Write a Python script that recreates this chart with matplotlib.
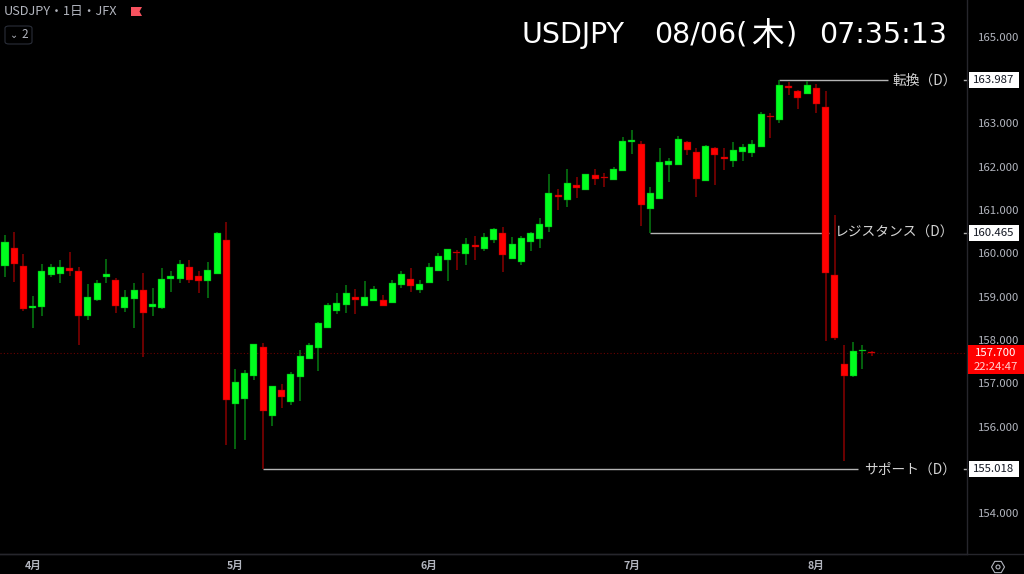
import matplotlib
matplotlib.use('Agg')
from matplotlib import pyplot as plt
from matplotlib.patches import FancyBboxPatch, Polygon, Rectangle, Circle, RegularPolygon

plt.rcParams['font.family'] = ['Noto Sans CJK JP', 'DejaVu Sans']

# daily candles: body top/bottom + wicks
highs = [160.42, 160.48, 159.98, 159.02, 159.75, 159.75, 159.84, 160.04, 159.69, 159.30,
         159.38, 159.86, 159.42, 159.15, 159.31, 159.54, 159.20, 159.65, 159.59, 159.85,
         159.85, 159.60, 159.80, 160.49, 160.73, 157.33, 157.31, 157.91, 157.92, 156.95,
         156.99, 157.27, 157.77, 157.92, 158.42, 158.85, 159.09, 159.27, 159.18, 159.36,
         159.25, 159.03, 159.38, 159.59, 159.67, 159.38, 159.77, 160.00, 160.11, 160.08,
         160.35, 160.41, 160.46, 160.58, 160.60, 160.38, 160.40, 160.48, 160.81, 161.83,
         161.48, 161.94, 161.75, 161.83, 161.95, 161.85, 162.00, 162.69, 162.85, 162.60,
         161.53, 162.42, 162.19, 162.71, 162.60, 162.42, 162.49, 162.45, 162.43, 162.56,
         162.52, 162.61, 163.25, 163.23, 163.987, 163.95, 163.77, 163.97, 163.90, 163.74,
         160.88, 157.89, 157.96, 157.89, 157.74]
body_tops = [160.25, 160.12, 159.71, 158.79, 159.59, 159.68, 159.69, 159.66, 159.59, 159.00,
             159.31, 159.52, 159.38, 158.99, 159.15, 159.15, 158.83, 159.40, 159.48, 159.75,
             159.68, 159.48, 159.62, 160.46, 160.31, 157.03, 157.24, 157.91, 157.83, 156.95,
             156.85, 157.22, 157.62, 157.89, 158.40, 158.81, 158.86, 159.08, 158.99, 158.99,
             159.17, 158.93, 159.32, 159.52, 159.41, 159.29, 159.68, 159.94, 160.11, 160.04,
             160.22, 160.19, 160.38, 160.57, 160.46, 160.22, 160.35, 160.47, 160.68, 161.40,
             161.35, 161.61, 161.58, 161.82, 161.81, 161.76, 161.94, 162.60, 162.61, 162.53,
             161.38, 162.11, 162.12, 162.64, 162.57, 162.33, 162.47, 162.43, 162.21, 162.38,
             162.45, 162.51, 163.21, 163.17, 163.88, 163.87, 163.75, 163.88, 163.81, 163.37,
             159.50, 157.44, 157.75, 157.77, 157.72]
body_bottoms = [159.70, 159.75, 158.72, 158.75, 158.77, 159.50, 159.53, 159.59, 158.56, 158.56,
                158.92, 159.45, 158.79, 158.74, 158.95, 158.62, 158.77, 158.74, 159.41, 159.41,
                159.39, 159.37, 159.36, 159.52, 156.62, 156.52, 156.64, 157.16, 156.36, 156.25,
                156.69, 156.57, 157.15, 157.56, 157.82, 158.28, 158.68, 158.81, 158.93, 158.79,
                158.90, 158.79, 158.85, 159.26, 159.25, 159.15, 159.32, 159.59, 159.84, 160.01,
                159.99, 160.15, 160.11, 160.31, 159.96, 159.88, 159.80, 160.26, 160.33, 160.60,
                161.31, 161.22, 161.50, 161.46, 161.72, 161.74, 161.70, 161.90, 162.57, 161.12,
                161.02, 161.25, 162.04, 162.04, 162.39, 161.71, 161.66, 162.27, 162.18, 162.14,
                162.34, 162.32, 162.45, 163.14, 163.07, 163.82, 163.59, 163.67, 163.44, 159.55,
                158.04, 157.16, 157.16, 157.75, 157.70]
lows = [159.46, 159.33, 158.67, 158.28, 158.56, 159.45, 159.32, 159.48, 157.89, 158.47,
        158.91, 159.31, 158.62, 158.65, 158.28, 157.60, 158.55, 158.72, 159.11, 159.31,
        159.32, 159.09, 158.97, 159.52, 155.57, 155.49, 155.69, 157.08, 155.018, 156.02,
        156.44, 156.50, 156.59, 157.56, 157.29, 158.28, 158.59, 158.63, 158.59, 158.79,
        158.90, 158.79, 158.85, 159.19, 159.11, 159.09, 159.31, 159.59, 159.36, 159.62,
        159.72, 159.85, 160.06, 160.24, 159.57, 159.87, 159.72, 160.05, 160.12, 160.49,
        161.00, 161.07, 161.28, 161.46, 161.57, 161.54, 161.70, 161.90, 162.30, 160.63,
        160.465, 161.25, 161.65, 162.04, 162.27, 161.29, 161.66, 161.58, 161.91, 162.00,
        162.12, 162.21, 162.45, 162.65, 163.01, 163.65, 163.33, 163.67, 163.24, 157.98,
        158.00, 155.21, 157.15, 157.33, 157.63]
is_up = [1, 0, 0, 1, 1, 1, 1, 0, 0, 1,
         1, 1, 0, 1, 1, 0, 1, 1, 1, 1,
         0, 0, 1, 1, 0, 1, 1, 1, 0, 1,
         0, 1, 1, 1, 1, 1, 1, 1, 0, 1,
         1, 0, 1, 1, 0, 1, 1, 1, 1, 0,
         1, 0, 1, 1, 0, 1, 1, 1, 1, 1,
         0, 1, 0, 1, 0, 0, 1, 1, 1, 0,
         1, 1, 1, 1, 0, 0, 1, 0, 0, 1,
         1, 1, 1, 0, 1, 0, 0, 1, 0, 0,
         0, 0, 1, 1, 0]

price_ticks = [165, 163, 162, 161, 160, 159, 158, 157, 156, 154]
month_pos = [3, 25, 46, 68, 88]
month_labels = ['4月', '5月', '6月', '7月', '8月']

# horizontal levels: price, first candle, label
level_prices = [163.987, 160.465, 155.018]
level_starts = [84, 70, 28]
level_labels = ['転換（D）', 'レジスタンス（D）', 'サポート（D）']
last_price = 157.700
countdown = '22:24:47'
title_parts = ['USDJPY', '08/06(', '木', ')', '07:35:13']

W, H = 1024, 574
AX_R, AX_B = 967, 554
GREEN, RED = '#00ff1e', '#ff0000'
GREEN_W, RED_W = '#067d12', '#8a0000'
GRID = '#26262c'
TXT = '#b2b5be'

fig = plt.figure(figsize=(W / 100, H / 100), dpi=100, facecolor='black')
ax = fig.add_axes([0, 1 - AX_B / H, AX_R / W, AX_B / H], facecolor='black')
ax.set_xlim(-0.542, 104.34)
ax.set_ylim(153.065, 165.842)
for s in ['top', 'left']:
    ax.spines[s].set_visible(False)
for s in ['right', 'bottom']:
    ax.spines[s].set_color(GRID)
    ax.spines[s].set_linewidth(1)

ax.yaxis.tick_right()
ax.set_yticks(price_ticks)
ax.set_yticklabels(['%.3f' % p for p in price_ticks], fontsize=8.2, color=TXT)
ax.tick_params(axis='y', length=0, pad=8)
ax.set_xticks(month_pos)
ax.set_xticklabels(month_labels, fontsize=7.6, color=TXT, fontweight='bold')
ax.tick_params(axis='x', length=0, pad=5)

# current price line
ax.axhline(last_price, color='#6a0000', lw=0.8, ls=(0, (1, 2)), zorder=1)

# levels sit under the candles
line_ends = [95.77, 89.37, 92.5]
text_x = [96.3, 90.05, 93.2]
for p, st, lab, e, tx in zip(level_prices, level_starts, level_labels, line_ends, text_x):
    ax.hlines(p, st, e, color='#b4b4b4', lw=1, zorder=2)
    ax.text(tx, p, lab, color='#d4d4d4', fontsize=9.9, va='center', ha='left', zorder=5)
    ax.plot([103.98, 104.34], [p, p], color='#b4b4b4', lw=1, zorder=2, clip_on=False)

for i in range(len(highs)):
    c = GREEN if is_up[i] else RED
    w = GREEN_W if is_up[i] else RED_W
    ax.vlines(i, lows[i], highs[i], color=w, lw=1.1, zorder=3)
    ax.bar(i, body_tops[i] - body_bottoms[i], bottom=body_bottoms[i], width=0.76,
           color=c, edgecolor=w, linewidth=0.3, zorder=4)


def px(x, y):
    return x / W, 1 - y / H


def put_box(x0, y0, x1, y1, color):
    fig.add_artist(Rectangle(px(x0, y1), (x1 - x0) / W, (y1 - y0) / H, transform=fig.transFigure,
                             facecolor=color, edgecolor='none', zorder=6))


# tags on the price scale
for p in level_prices:
    yp = H - ax.transData.transform((0, p))[1]
    put_box(968.5, yp - 8, 1019, yp + 8, 'white')
    fig.text(*px(994, yp), '%.3f' % p, color='#131722', fontsize=8.2, ha='center', va='center', zorder=7)

yp = H - ax.transData.transform((0, last_price))[1]
put_box(968, yp - 8, 1024, yp + 21, '#ff0000')
fig.text(*px(996, yp), '%.3f' % last_price, color='white', fontsize=8.2, ha='center', va='center', zorder=7)
fig.text(*px(996, yp + 14), countdown, color='#ffd0d0', fontsize=8.2, ha='center', va='center', zorder=7)

# header, the big clock is in DejaVu with the kanji a bit larger
title_x = [521, 654, 751, 786, 819]
title_size = [20.5, 20.5, 23.5, 20.5, 20.5]
for part, x0, fs in zip(title_parts, title_x, title_size):
    fig.text(*px(x0, 32), part, color='white', fontsize=fs, ha='left', va='center_baseline',
             family=['DejaVu Sans', 'Noto Sans CJK JP'] if part != '木' else ['Noto Sans CJK JP'])
fig.text(*px(4, 12), 'USDJPY・1日・JFX', color=TXT, fontsize=9.2, ha='left', va='center')
flag = [(131, 7), (142, 7), (139.5, 11.5), (142, 16), (131, 16)]
fig.add_artist(Polygon([px(a, b) for a, b in flag], transform=fig.transFigure,
                       facecolor='#f7525f', edgecolor='none'))
fig.add_artist(FancyBboxPatch(px(5, 44), 27 / W, 18 / H, boxstyle='round,pad=0,rounding_size=0.004',
                              transform=fig.transFigure, facecolor='none', edgecolor='#2a2e39', lw=0.8))
fig.text(*px(14, 35), '⌄', color=TXT, fontsize=7, ha='center', va='center')
fig.text(*px(25, 35), '2', color=TXT, fontsize=8.5, ha='center', va='center')

# settings icon, drawn in pixels
icon = fig.add_axes([0, 0, 1, 1], facecolor='none')
icon.set_xlim(0, W)
icon.set_ylim(H, 0)
icon.axis('off')
icon.add_patch(RegularPolygon((998, 567), 6, radius=6.5, orientation=1.5708, facecolor='none',
                              edgecolor=TXT, lw=0.8))
icon.add_patch(Circle((998, 567), 2, facecolor='none', edgecolor=TXT, lw=0.8))
icon.plot([0, W], [AX_B, AX_B], color=GRID, lw=1)

fig.savefig('out.png', dpi=100, facecolor='black')
